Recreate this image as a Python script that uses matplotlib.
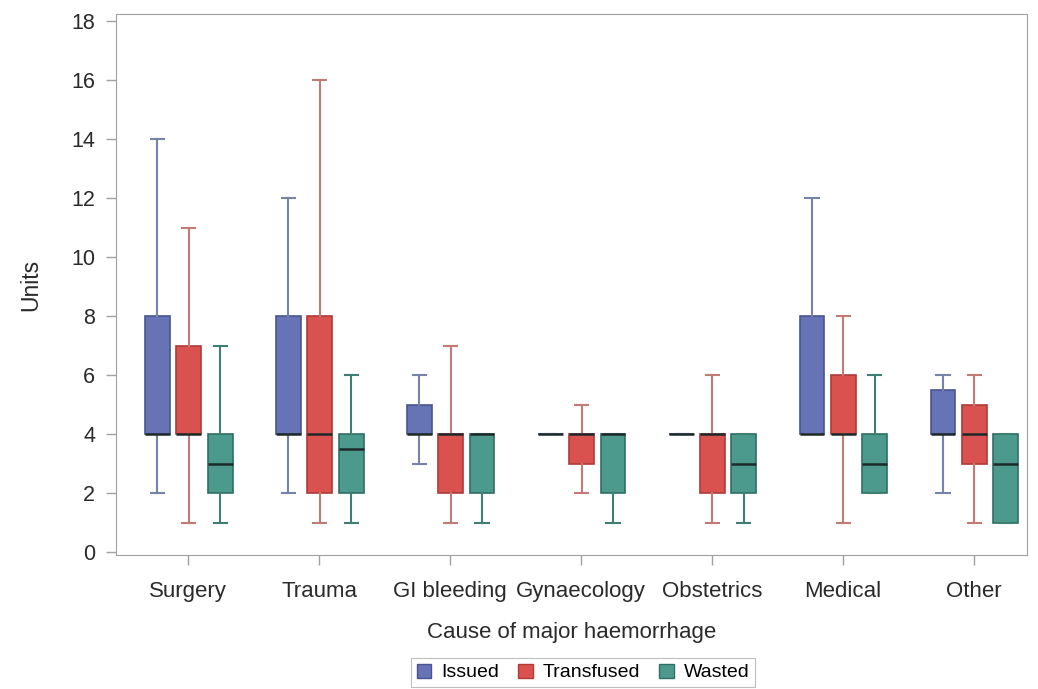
import numpy as np
import matplotlib
matplotlib.use("Agg")
import matplotlib.pyplot as plt
from matplotlib.patches import Patch

plt.rcParams['font.family'] = ['Liberation Sans', 'DejaVu Sans']

categories = ['Surgery', 'Trauma', 'GI bleeding', 'Gynaecology', 'Obstetrics', 'Medical', 'Other']
series = ['Issued', 'Transfused', 'Wasted']

# per series: (whislo, q1, med, q3, whishi) per category
issued = [(2, 4, 4, 8, 14), (2, 4, 4, 8, 12), (3, 4, 4, 5, 6), (4, 4, 4, 4, 4),
          (4, 4, 4, 4, 4), (4, 4, 4, 8, 12), (2, 4, 4, 5.5, 6)]
transfused = [(1, 4, 4, 7, 11), (1, 2, 4, 8, 16), (1, 2, 4, 4, 7), (2, 3, 4, 4, 5),
              (1, 2, 4, 4, 6), (1, 4, 4, 6, 8), (1, 3, 4, 5, 6)]
wasted = [(1, 2, 3, 4, 7), (1, 2, 3.5, 4, 6), (1, 2, 4, 4, 4), (1, 2, 4, 4, 4),
          (1, 2, 3, 4, 4), (2, 2, 3, 4, 6), (1, 1, 3, 4, 4)]

fills = ['#6673B4', '#D9524F', '#4C9A8D']
edges = ['#4A5590', '#B03A38', '#2F6F62']
whisk = ['#7583A8', '#C47A74', '#3F7F73']

fig = plt.figure(figsize=(10.38, 6.89), dpi=100)
ax = fig.add_axes([0.1118, 0.1945, 0.878, 0.785])

offsets = [-0.235, 0.005, 0.245]
x = np.arange(len(categories))
for k, data in enumerate([issued, transfused, wasted]):
    stats = []
    for lo, q1, med, q3, hi in data:
        stats.append(dict(whislo=lo, q1=q1, med=med, q3=q3, whishi=hi, fliers=[]))
    ax.bxp(stats, positions=x + offsets[k], widths=0.19, patch_artist=True,
           showfliers=False, manage_ticks=False,
           boxprops=dict(facecolor=fills[k], edgecolor=edges[k], linewidth=1.2),
           medianprops=dict(color='#1E2A2A', linewidth=1.8),
           whiskerprops=dict(color=whisk[k], linewidth=1.5),
           capprops=dict(color=whisk[k], linewidth=1.5),
           capwidths=0.1)

ax.set_xlim(-0.55, 6.41)
ax.set_ylim(-0.1, 18.25)
ax.set_yticks(np.arange(0, 19, 2))
ax.set_xticks(x)
ax.set_xticklabels(categories)
for s in ax.spines.values():
    s.set_color('#A0A0A0')
ax.tick_params(colors='#A0A0A0', labelcolor='#2A2A2A', length=7, width=1)
ax.tick_params(axis='x', labelsize=16, pad=12)
ax.tick_params(axis='y', labelsize=15.5, pad=8)
ax.set_xlabel('Cause of major haemorrhage', fontsize=16, color='#2A2A2A')
ax.set_ylabel('Units', fontsize=16.5, color='#2A2A2A')
ax.xaxis.set_label_coords(0.5, -0.123)
ax.yaxis.set_label_coords(-0.081, 0.5)

handles = [Patch(facecolor=fills[i], edgecolor=edges[i], label=series[i]) for i in range(3)]
leg = fig.legend(handles=handles, loc='center', bbox_to_anchor=(0.5617, 0.024), ncol=3,
                 fontsize=14, frameon=True, fancybox=False, handlelength=0.75,
                 handleheight=0.75, handletextpad=0.5, columnspacing=1.0,
                 borderpad=0.3, edgecolor='#B0B0B0')
leg.get_frame().set_linewidth(0.8)

fig.savefig('out.png', dpi=100)
